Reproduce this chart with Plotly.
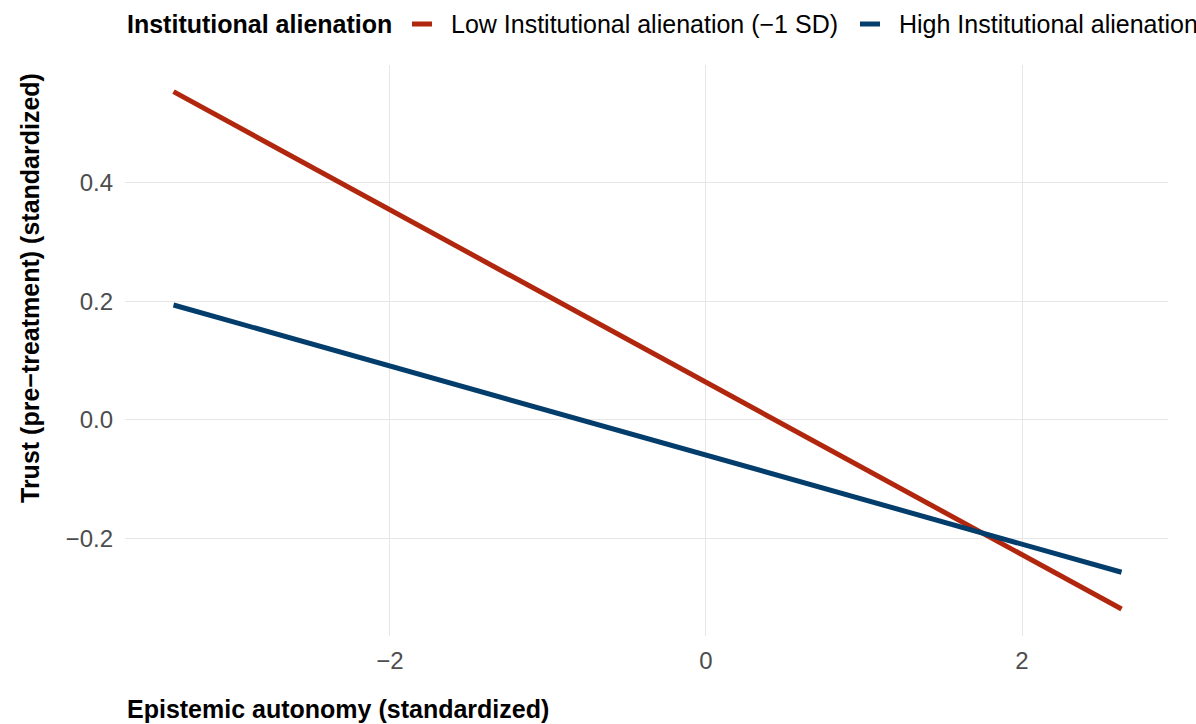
import plotly.graph_objects as go

# Data
x_vals = [-3.37, 2.63]
low_alienation = [0.554, -0.319]
high_alienation = [0.194, -0.257]
series_names = ["Low Institutional alienation (\u22121 SD)", "High Institutional alienation (+1 SD)"]
x_ticks = [-2, 0, 2]
x_ticktext = ["\u22122", "0", "2"]
y_ticks = [0.4, 0.2, 0.0, -0.2]
y_ticktext = ["0.4", "0.2", "0.0", "\u22120.2"]

RED = "#B1270E"
BLUE = "#033D6C"
FONT = "Liberation Sans, Arial, Helvetica, sans-serif"
TITLE_SIZE = 25
TICK_SIZE = 24

fig = go.Figure()
fig.add_trace(go.Scatter(x=x_vals, y=low_alienation, mode="lines", name=series_names[0],
                         line=dict(color=RED, width=5), showlegend=False))
fig.add_trace(go.Scatter(x=x_vals, y=high_alienation, mode="lines", name=series_names[1],
                         line=dict(color=BLUE, width=5), showlegend=False))

W, H = 1196, 724
L, R, T, B = 125, 28, 65, 88
pw, ph = W - L - R, H - T - B

def px_x(p):
    return (p - L) / pw

def px_y(p):
    return (H - B - p) / ph

fig.update_layout(
    width=W, height=H,
    margin=dict(l=L, r=R, t=T, b=B, autoexpand=False),
    paper_bgcolor="white", plot_bgcolor="white",
    font=dict(family=FONT, color="black"),
    xaxis=dict(range=[-3.677, 2.924], tickvals=x_ticks, ticktext=x_ticktext,
               showgrid=True, gridcolor="#E6E6E6", gridwidth=1.2, zeroline=False,
               showline=False, ticks="", ticklabelstandoff=8,
               tickfont=dict(size=TICK_SIZE, color="#4D4D4D", family=FONT)),
    yaxis=dict(range=[-0.3646, 0.599], tickvals=y_ticks, ticktext=y_ticktext,
               showgrid=True, gridcolor="#E6E6E6", gridwidth=1.2, zeroline=False,
               showline=False, ticks="", ticklabelstandoff=11,
               tickfont=dict(size=TICK_SIZE, color="#4D4D4D", family=FONT)),
)

# Legend (drawn manually so it can run past the right edge like the reference)
ly = 24
fig.add_annotation(x=px_x(125), y=px_y(ly), xref="paper", yref="paper",
                   text="<b>Institutional alienation</b>", showarrow=False,
                   xanchor="left", yanchor="middle", font=dict(size=TITLE_SIZE, family=FONT, color="black"))
fig.add_shape(type="line", xref="paper", yref="paper",
              x0=px_x(412), x1=px_x(432), y0=px_y(ly), y1=px_y(ly),
              line=dict(color=RED, width=5))
fig.add_annotation(x=px_x(449), y=px_y(ly), xref="paper", yref="paper",
                   text=series_names[0], showarrow=False,
                   xanchor="left", yanchor="middle", font=dict(size=TITLE_SIZE, family=FONT, color="black"))
fig.add_shape(type="line", xref="paper", yref="paper",
              x0=px_x(860), x1=px_x(880), y0=px_y(ly), y1=px_y(ly),
              line=dict(color=BLUE, width=5))
fig.add_annotation(x=px_x(897), y=px_y(ly), xref="paper", yref="paper",
                   text=series_names[1], showarrow=False,
                   xanchor="left", yanchor="middle", font=dict(size=TITLE_SIZE, family=FONT, color="black"))

# Axis titles
fig.add_annotation(x=px_x(125), y=px_y(709), xref="paper", yref="paper",
                   text="<b>Epistemic autonomy (standardized)</b>", showarrow=False,
                   xanchor="left", yanchor="middle", font=dict(size=TITLE_SIZE, family=FONT, color="black"))
fig.add_annotation(x=px_x(30), y=px_y(288), xref="paper", yref="paper",
                   text="<b>Trust (pre\u2212treatment) (standardized)</b>", showarrow=False,
                   textangle=-90, xanchor="center", yanchor="middle",
                   font=dict(size=TITLE_SIZE, family=FONT, color="black"))

fig.write_html("out.html")
